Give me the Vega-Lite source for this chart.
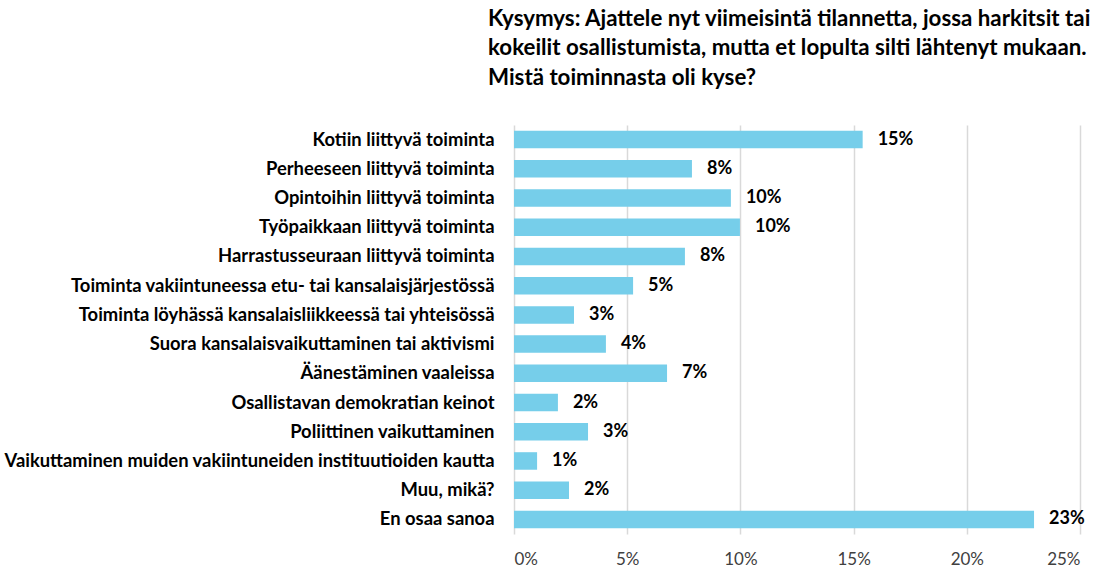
{
  "$schema": "https://vega.github.io/schema/vega-lite/v6.json",
  "width": 566,
  "height": 409,
  "autosize": "none",
  "padding": {"left": 514, "top": 125, "right": 22, "bottom": 34},
  "background": "white",
  "title": {
    "text": ["Kysymys: Ajattele nyt viimeisintä tilannetta, jossa harkitsit tai", "kokeilit osallistumista, mutta et lopulta silti lähtenyt mukaan.", "Mistä toiminnasta oli kyse?"],
    "anchor": "start",
    "frame": "group",
    "dx": -26,
    "offset": 36,
    "font": "Lato",
    "fontSize": 22.3,
    "fontWeight": "bold",
    "lineHeight": 29.5,
    "color": "#000000"
  },
  "data": {
    "values": [
      {"cat": "Kotiin liittyvä toiminta", "v": 15.4, "lab": "15%"},
      {"cat": "Perheeseen liittyvä toiminta ", "v": 7.86, "lab": "8%"},
      {"cat": "Opintoihin liittyvä toiminta ", "v": 9.58, "lab": "10%"},
      {"cat": "Työpaikkaan liittyvä toiminta ", "v": 9.98, "lab": "10%"},
      {"cat": "Harrastusseuraan liittyvä toiminta ", "v": 7.55, "lab": "8%"},
      {"cat": "Toiminta vakiintuneessa etu- tai kansalaisjärjestössä", "v": 5.26, "lab": "5%"},
      {"cat": "Toiminta löyhässä kansalaisliikkeessä tai yhteisössä ", "v": 2.65, "lab": "3%"},
      {"cat": "Suora kansalaisvaikuttaminen tai aktivismi ", "v": 4.06, "lab": "4%"},
      {"cat": "Äänestäminen vaaleissa", "v": 6.76, "lab": "7%"},
      {"cat": "Osallistavan demokratian keinot", "v": 1.94, "lab": "2%"},
      {"cat": "Poliittinen vaikuttaminen ", "v": 3.27, "lab": "3%"},
      {"cat": "Vaikuttaminen muiden vakiintuneiden instituutioiden kautta", "v": 1.02, "lab": "1%"},
      {"cat": "Muu, mikä?", "v": 2.43, "lab": "2%"},
      {"cat": "En osaa sanoa", "v": 22.97, "lab": "23%"}
    ]
  },
  "encoding": {
    "y": {
      "field": "cat",
      "type": "nominal",
      "sort": null,
      "scale": {"paddingInner": 0.4, "paddingOuter": 0.2},
      "axis": {
        "title": null,
        "domain": false,
        "ticks": false,
        "labelPadding": 20,
        "labelFont": "Lato",
        "labelFontSize": 18.4,
        "labelFontWeight": "bold",
        "labelColor": "#000000",
        "labelLimit": 600
      }
    },
    "x": {
      "field": "v",
      "type": "quantitative",
      "scale": {"domain": [0, 25], "nice": false},
      "axis": {
        "title": null,
        "values": [0, 5, 10, 15, 20, 25],
        "labelExpr": "datum.value + '%'",
        "domain": false,
        "ticks": false,
        "grid": true,
        "gridColor": "#d9d9d9",
        "gridWidth": 1.5,
        "labelPadding": 17,
        "labelFont": "Lato",
        "labelFontSize": 17,
        "labelColor": "#404040"
      }
    }
  },
  "layer": [
    {"mark": {"type": "bar", "color": "#76CEEA"}},
    {
      "mark": {"type": "text", "align": "left", "dx": 15, "font": "Lato", "fontSize": 18, "fontWeight": "bold", "color": "#000000"},
      "encoding": {"text": {"field": "lab"}}
    }
  ],
  "config": {"view": {"stroke": null}}
}
